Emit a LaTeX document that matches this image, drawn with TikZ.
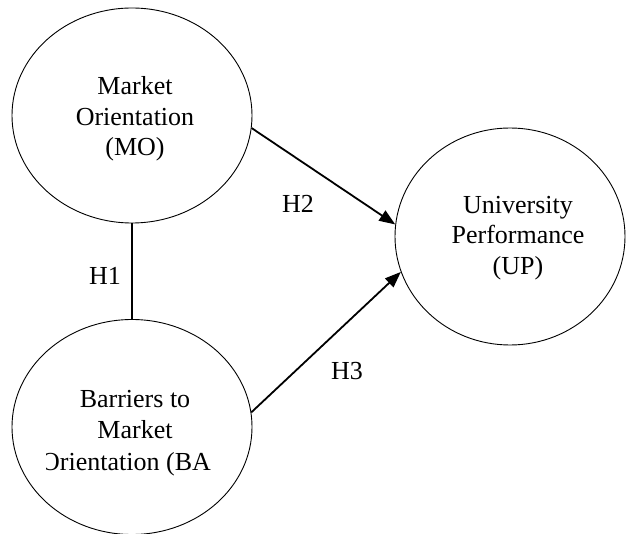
\documentclass[tikz,border=0pt]{standalone}
\usepackage{fontspec}
\setmainfont{Liberation Serif}
\usetikzlibrary{shapes.geometric,arrows.meta}
\begin{document}
\begin{tikzpicture}[x=1pt,y=-1pt,
  latent/.style={draw,ellipse,line width=0.9pt,inner sep=0pt},
  txt/.style={align=center,font=\fontsize{26}{30.5}\selectfont,inner sep=0pt},
  hyparrow/.style={line width=1.8pt,-{Triangle[length=16pt,width=12pt]}},
  hypline/.style={line width=1.3pt}
]
\useasboundingbox (0,0) rectangle (626,534);
\node[latent,minimum width=240pt,minimum height=215pt] (mo) at (132,115.5) {};
\node[latent,minimum width=240pt,minimum height=215pt] (ba) at (132,427) {};
\node[latent,minimum width=230pt,minimum height=217pt] (up) at (510,236.5) {};

\node[txt] (motxt) at (135,119) {Market\\Orientation\\(MO)};
\node[txt] (uptxt) at (518,238) {University\\Performance\\(UP)};
\node[txt,anchor=base] (ba1) at (135,407) {Barriers to};
\node[txt,anchor=base] (ba2) at (135,438) {Market};
\begin{scope}
  \clip (46,440) rectangle (240,490);
  \node[txt,anchor=base west] (ba3) at (41,470) {Orientation (BA};
\end{scope}

\draw[hypline] (mo.south) -- (ba.north);
\draw[hyparrow] (mo.-6) -- (up.174);
\draw[hyparrow] (ba.7) -- (up.198);

\node[txt] (h1) at (105,276) {H1};
\node[txt] (h2) at (298,204) {H2};
\node[txt] (h3) at (347,371) {H3};
\end{tikzpicture}
\end{document}
